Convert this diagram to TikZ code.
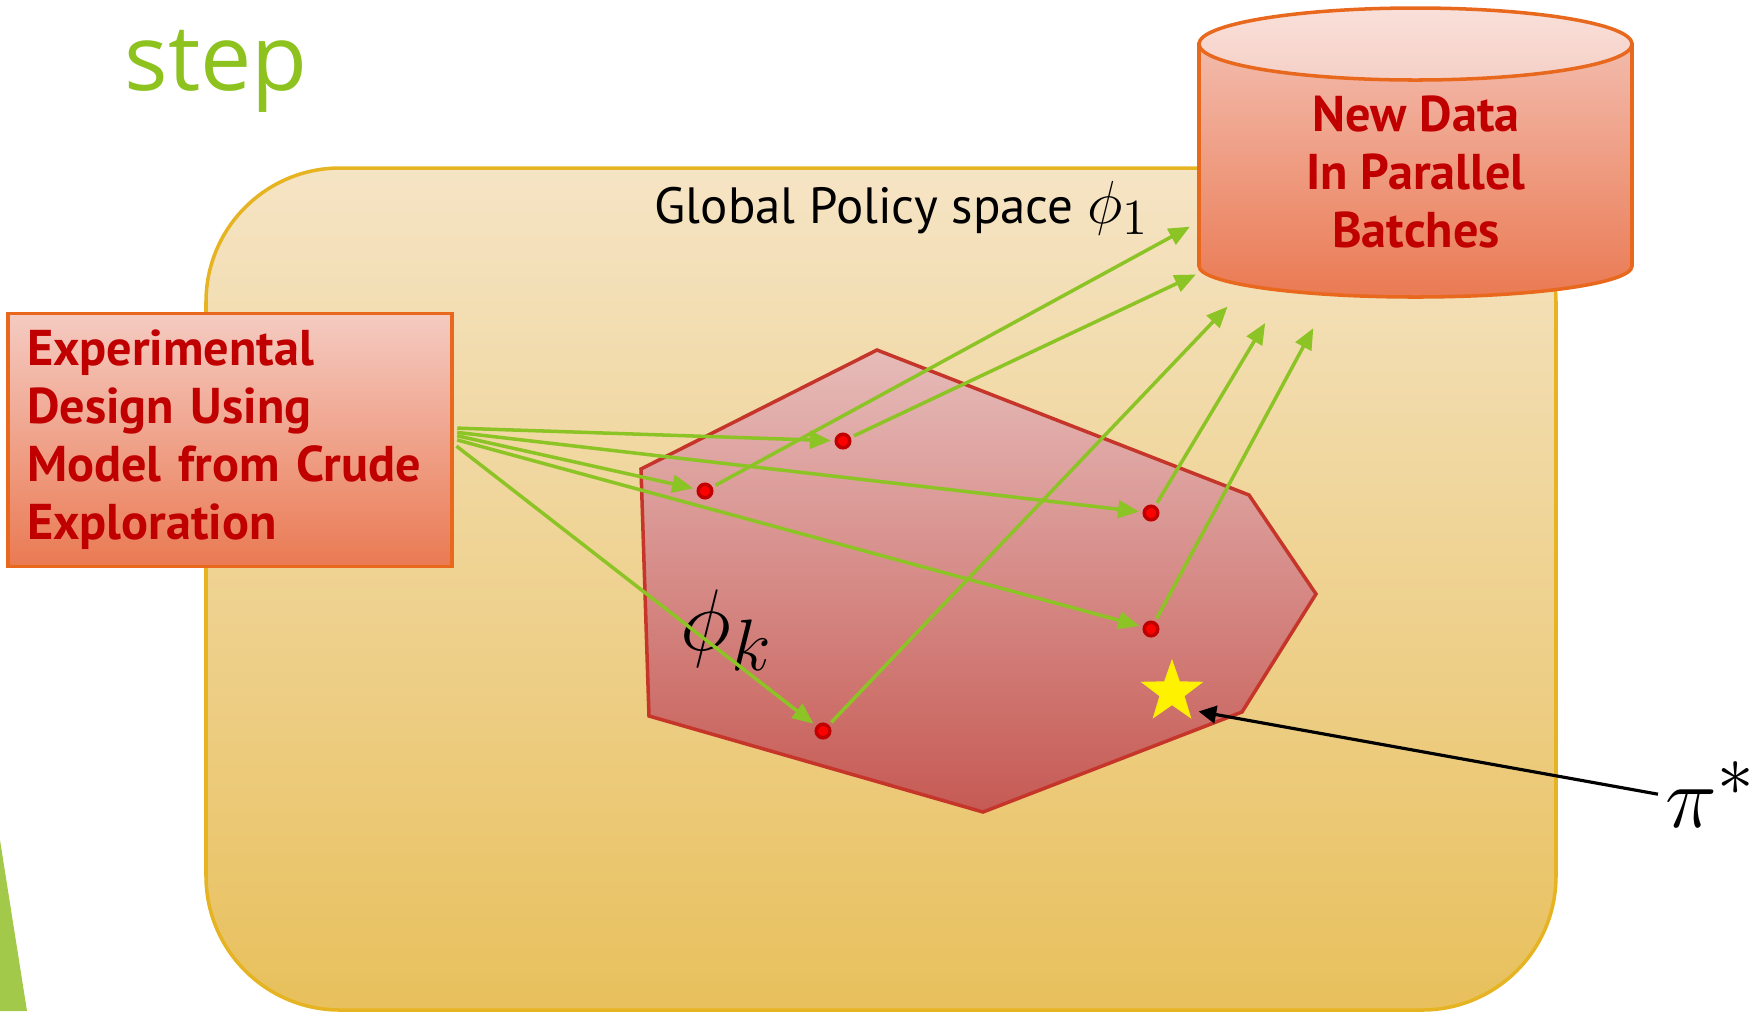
\documentclass[tikz,border=0pt]{standalone}
\usepackage{fontspec}
\setmainfont{PT Sans}
\newfontfamily\stepfont{Open Sans}
\usetikzlibrary{arrows.meta,shapes.geometric,positioning}

\definecolor{stepgreen}{HTML}{8DC21F}
\definecolor{flowgreen}{HTML}{8CC325}
\definecolor{spacetop}{HTML}{F5E4C5}
\definecolor{spacebot}{HTML}{E8C05C}
\definecolor{spaceline}{HTML}{E6B422}
\definecolor{boxtop}{HTML}{F5CBC2}
\definecolor{boxbot}{HTML}{EA7A53}
\definecolor{boxline}{HTML}{E8681E}
\definecolor{captop}{HTML}{F9E0DA}
\definecolor{capbot}{HTML}{F5D0C6}
\definecolor{hextop}{HTML}{E6BBB9}
\definecolor{hexbot}{HTML}{C65A54}
\definecolor{hexline}{HTML}{C5352A}
\definecolor{darkred}{HTML}{C00000}
\definecolor{sliver}{HTML}{A2C94A}

\tikzset{
  flow/.style={draw=flowgreen, line width=1pt, -{Triangle[length=6pt,width=5pt]}, shorten >=1pt, shorten <=1pt},
  sample/.style={circle, fill=red, draw=darkred, line width=1pt, inner sep=0pt, minimum size=1.35mm},
  redtext/.style={text=darkred, font=\bfseries\fontsize{14.3}{16.5}\selectfont},
}

\begin{document}
\begin{tikzpicture}[x=0.1mm,y=-0.1mm]
\useasboundingbox (0,0) rectangle (1752,1011);

% global policy space
\path[draw=spaceline, line width=1pt, top color=spacetop, bottom color=spacebot, rounded corners=13.4mm] (206,168) rectangle (1556,1010);
\fill[sliver] (0,840) -- (27,1011) -- (0,1011) -- cycle;

% local region
\path[draw=hexline, line width=1pt, top color=hextop, bottom color=hexbot] (641,469) -- (877,350) -- (1249,495) -- (1316,594) -- (1242,712) -- (983,812) -- (649,716) -- cycle;

% data store
\path[draw=boxline, line width=1pt, top color=boxtop!80!boxbot, bottom color=boxbot] (1199,44) -- (1199,266) arc[start angle=180, end angle=0, x radius=216.5, y radius=31] -- (1632,44) -- cycle;
\path[draw=boxline, line width=1pt, top color=captop, bottom color=capbot] (1415.5,44) ellipse[x radius=216.5, y radius=36];

\node[anchor=base west, text=stepgreen, font=\stepfont\fontsize{26}{30}\selectfont, inner sep=0pt] (title) at (124,90) {step};

\node[draw=boxline, line width=1pt, top color=boxtop, bottom color=boxbot, minimum width=44.4mm, minimum height=25.3mm, text width=40.6mm, inner xsep=1.9mm, align=left, redtext] (design) at (230,440) {Experimental\\Design Using\\Model from Crude\\Exploration};

\node[redtext, align=center] (data) at (1416,172) {New Data\\In Parallel\\Batches};

\node[anchor=base west, inner sep=0pt, font=\fontsize{14.5}{18}\selectfont] (gps) at (654,223) {Global Policy space \fontsize{19}{24}\selectfont$\phi_1$};

\node[anchor=base west, inner sep=0pt, font=\fontsize{30}{34}\selectfont] (phik) at (680,650) {$\phi_k$};

% sampled policies
\node[sample] (d1) at (843,441) {};
\node[sample] (d2) at (705,491) {};
\node[sample] (d3) at (1151,513) {};
\node[sample] (d4) at (1151,629) {};
\node[sample] (d5) at (823,731) {};

\node[star, star points=5, star point ratio=2.5, fill=yellow, inner sep=0pt, minimum size=6.6mm] (best) at (1172,692) {};

\node[anchor=base west, inner sep=2pt, font=\fontsize{30}{34}\selectfont] (pi) at (1658,827) {$\pi^*$};

% entry points on the store
\coordinate (in1) at (1193,225);
\coordinate (in2) at (1199,273);
\coordinate (in3) at (1230,304);
\coordinate (in4) at (1267,320);
\coordinate (in5) at (1315,325);

\draw[flow] ([yshift=1.2mm]design.east) -- (d1);
\draw[flow] ([yshift=0.8mm]design.east) -- (d3);
\draw[flow] ([yshift=0.5mm]design.east) -- (d2);
\draw[flow] ([yshift=0.1mm]design.east) -- (d4);
\draw[flow] ([yshift=-0.4mm]design.east) -- (d5);

\draw[flow] (d2) -- (in1);
\draw[flow] (d1) -- (in2);
\draw[flow] (d5) -- (in3);
\draw[flow] (d3) -- (in4);
\draw[flow] (d4) -- (in5);

\draw[line width=0.9pt, -{Triangle[length=5pt,width=5pt]}] (pi.west) -- ([shift={(0.6mm,0.9mm)}]best.outer point 4);
\end{tikzpicture}
\end{document}
